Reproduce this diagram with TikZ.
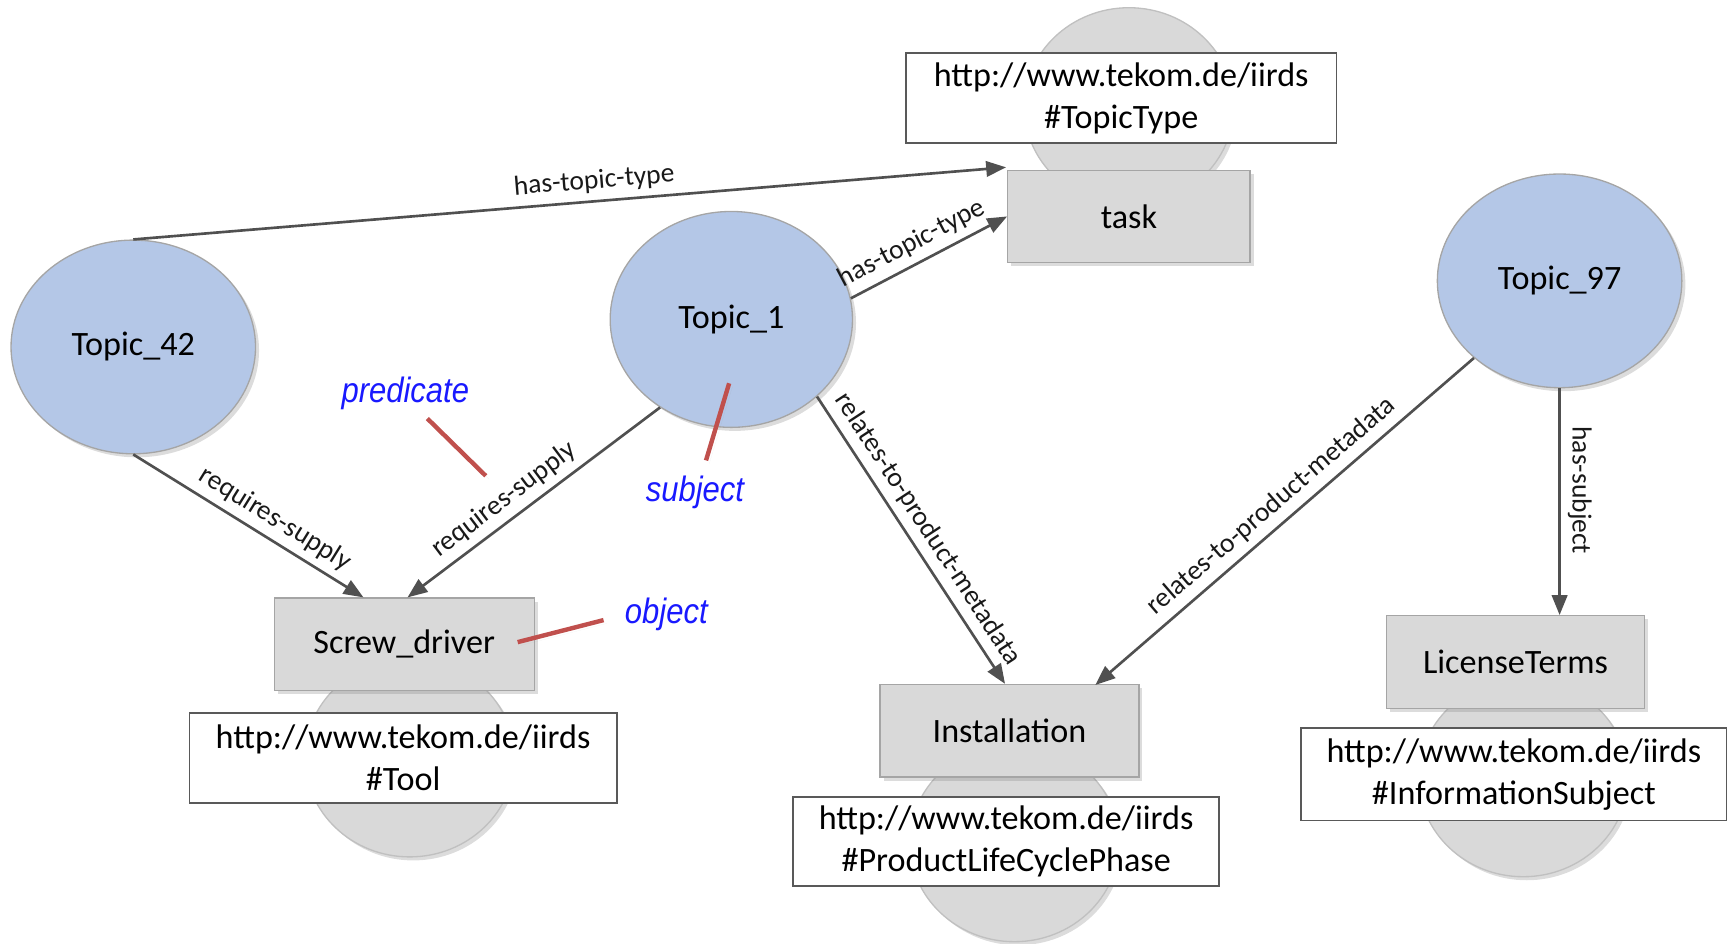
\documentclass[tikz,border=0pt]{standalone}
\usepackage{fontspec}
\usepackage{graphicx}
\setmainfont{Carlito}
\newfontfamily\annfont{Liberation Sans}
\usetikzlibrary{arrows.meta,shadows,calc,shapes.geometric}
\definecolor{topicblue}{RGB}{180,199,231}
\definecolor{boxgray}{RGB}{217,217,217}
\definecolor{bordergray}{RGB}{165,165,165}
\definecolor{edgegray}{RGB}{80,80,80}
\definecolor{annred}{RGB}{192,80,77}
\definecolor{annblue}{RGB}{25,25,255}
\begin{document}
\begin{tikzpicture}[x=0.5pt,y=-0.5pt,
  softshadow/.style={drop shadow={opacity=0.28,shadow xshift=1.6pt,shadow yshift=-1.6pt}},
  topic/.style={ellipse,draw=bordergray,line width=0.6pt,fill=topicblue,minimum width=111pt,minimum height=97pt,inner sep=0pt,font=\fontsize{15.5}{19}\selectfont,softshadow},
  classell/.style={ellipse,draw=bordergray!70,line width=0.6pt,fill=boxgray,minimum width=95pt,minimum height=90pt,inner sep=0pt,softshadow},
  instbox/.style={rectangle,draw=bordergray,line width=0.6pt,fill=boxgray,minimum height=42pt,inner sep=0pt,font=\fontsize{15.5}{19}\selectfont,softshadow},
  urlbox/.style={rectangle,draw=black!65,line width=0.8pt,fill=white,align=center,minimum height=41pt,inner sep=0pt,font=\fontsize{15.5}{19}\selectfont},
  rel/.style={draw=edgegray,line width=1.2pt,-{Triangle[length=9pt,width=7pt]}},
  rellabel/.style={font=\fontsize{12.5}{14}\selectfont,sloped,text=black!90,inner sep=3.2pt},
  annline/.style={draw=annred,line width=2pt,drop shadow={opacity=0.25,shadow xshift=1.5pt,shadow yshift=-1.5pt}},
  anntext/.style={text=annblue,font=\annfont\itshape\fontsize{16}{18}\selectfont,inner sep=0pt}
]
\useasboundingbox (0,0) rectangle (1568,857);
% class ellipses behind
\node[classell] (ctask) at (1025,97) {};
\node[classell] (csd) at (372,688) {};
\node[classell] (cinst) at (921,765) {};
\node[classell] (clic) at (1383,706) {};
% instance boxes
\node[instbox,minimum width=110pt] (task) at (1025,196.5) {task};
\node[instbox,minimum width=118pt] (sd) at (367,585) {Screw\_driver};
\node[instbox,minimum width=117.5pt] (inst) at (916.5,663.5) {Installation};
\node[instbox,minimum width=117pt] (lic) at (1376,601) {LicenseTerms};
% url boxes
\node[urlbox,minimum width=195.5pt] (utask) at (1018,89) {http://www.tekom.de/iirds\\\#TopicType};
\node[urlbox,minimum width=194pt] (usd) at (366,688) {http://www.tekom.de/iirds\\\#Tool};
\node[urlbox,minimum width=193.5pt,minimum height=40.5pt] (uinst) at (913.5,764) {http://www.tekom.de/iirds\\\#ProductLifeCyclePhase};
\node[urlbox,minimum width=193.5pt,minimum height=42pt] (ulic) at (1374.5,703) {http://www.tekom.de/iirds\\\#InformationSubject};
% topics
\node[topic] (t42) at (121,315) {Topic\_42};
\node[topic,minimum width=110pt,minimum height=98pt] (t1) at (664,290) {Topic\_1};
\node[topic] (t97) at (1416,255) {Topic\_97};
% relations
\draw[rel] (t42.north) -- node[rellabel,above,pos=0.53] {has-topic-type} ($(task.north west)+(-1,-2)$);
\draw[rel] (t1.10) -- node[rellabel,above,pos=0.45] {has-topic-type} (task.west);
\draw[rel] (t42.south) -- node[rellabel,above,pos=0.57] {requires-supply} ($(sd.north)+(-37,0)$);
\draw[rel] (t1.231) -- node[rellabel,above,pos=0.57] {requires-supply} ($(sd.north)+(3,0)$);
\draw[rel] (t1.-42) -- node[rellabel,above,pos=0.5] {relates-to-product-metadata} ($(inst.north)+(-4,0)$);
\draw[rel] (t97.222) -- node[rellabel,above,pos=0.5] {relates-to-product-metadata} ($(inst.north)+(78,1)$);
\draw[rel] (t97.south) -- node[rellabel,above,pos=0.45] {has-subject} (t97.south |- lic.north);
% annotations
\coordinate (pa) at (388,380);
\coordinate (pb) at (441,432);
\coordinate (sa) at (662,348);
\coordinate (sb) at (641,418);
\coordinate (oa) at (470,583);
\coordinate (ob) at (548,563);
\draw[annline] (pa) -- (pb);
\draw[annline] (sa) -- (sb);
\draw[annline] (oa) -- (ob);
\node[anntext] (lpred) at (368,357) {\scalebox{0.88}[1]{predicate}};
\node[anntext] (lsubj) at (631,447) {\scalebox{0.88}[1]{subject}};
\node[anntext] (lobj) at (605,558) {\scalebox{0.88}[1]{object}};
\end{tikzpicture}
\end{document}
